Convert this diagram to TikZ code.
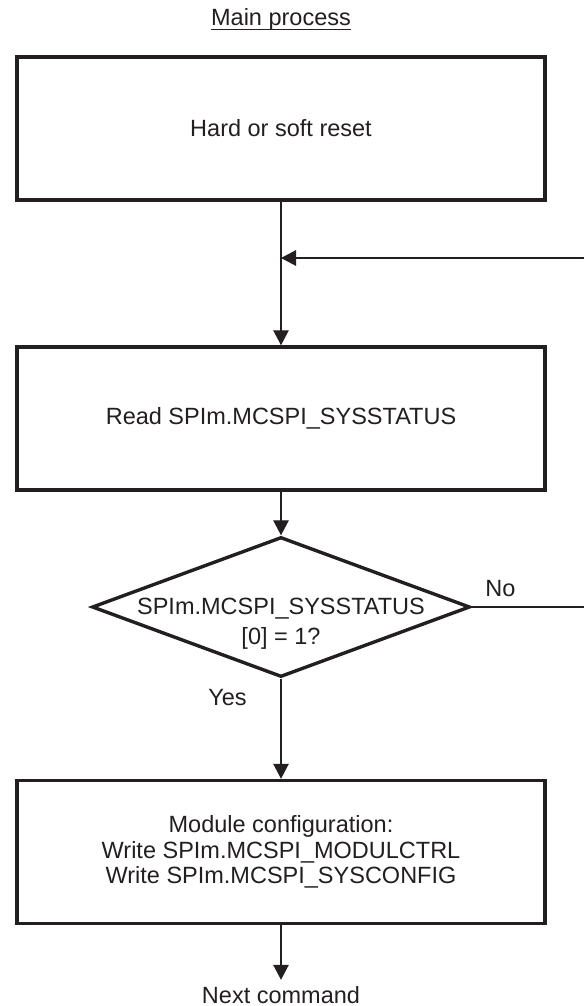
\documentclass[tikz,border=0pt]{standalone}
\usepackage{fontspec}
\setmainfont{Liberation Sans}
\usetikzlibrary{shapes.geometric,arrows.meta}
\definecolor{ink}{HTML}{231F20}
\begin{document}
\begin{tikzpicture}[x=1pt,y=-1pt,
  every node/.style={text=ink, font=\fontsize{23.5}{25.5}\selectfont},
  procbox/.style={draw=ink, line width=3.5pt, rectangle, line join=miter,
    minimum width=528pt, minimum height=143pt, inner sep=0pt, align=center},
  decision/.style={draw=ink, line width=3.4pt, diamond, line join=miter,
    minimum width=378pt, minimum height=140pt, inner sep=0pt},
  flow/.style={draw=ink, line width=1.2pt},
  arr/.style={flow, -{Triangle[length=15pt,width=15.5pt]}},
  lbl/.style={inner sep=0pt}]
\useasboundingbox (0,0) rectangle (584,1006);

% title
\node[lbl, anchor=base] (title) at (281,26) {Main process};
\draw[ink, line width=1pt] ([yshift=-3.3pt]title.base west) -- ([yshift=-3.3pt]title.base east);

% process boxes
\node[procbox] (reset) at (281,128.5) {Hard or soft reset};
\node[procbox] (read) at (281,418.5) {Read SPIm.MCSPI\_SYSSTATUS};
\node[decision] (dec) at (281,607) {};
\node[lbl, anchor=north, align=center, font=\fontsize{23.5}{30}\selectfont] (dectext) at (281,597.9)
  {SPIm.MCSPI\_SYSSTATUS\\{[0]} = 1?};
\node[procbox] (conf) at (281,852)
  {Module configuration:\\Write SPIm.MCSPI\_MODULCTRL\\Write SPIm.MCSPI\_SYSCONFIG};
\node[inner xsep=0pt, inner ysep=6pt, anchor=base] (next) at (281,1003) {Next command};

% labels
\node[lbl] (no) at (500.5,589) {No};
\node[lbl] (yes) at (227.5,697.5) {Yes};

% loop-back coordinates (the loop runs off the right edge)
\coordinate (fbr) at (584,607);
\coordinate (fbt) at (584,258);
\coordinate (j) at (281,258);

% connectors
\draw[arr] (reset) -- (read);
\draw[arr] (fbt) -- (j);
\draw[arr] (read) -- (dec);
\draw[flow] (dec.east) -- (fbr);
\draw[arr] (dec) -- (conf);
\draw[arr] (conf) -- (next);
\end{tikzpicture}
\end{document}
